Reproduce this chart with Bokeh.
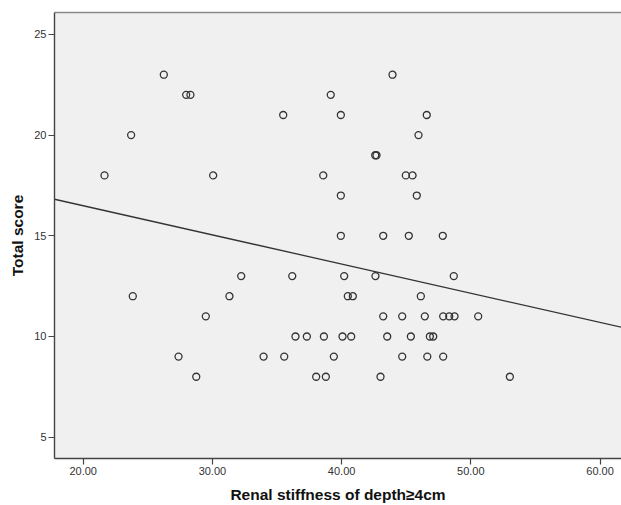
import numpy as np
from bokeh.plotting import figure
from bokeh.models import Range1d, FixedTicker, PrintfTickFormatter, LinearAxis
from bokeh.embed import file_html
from bokeh.resources import INLINE

# Renal stiffness (depth >= 4 cm) against total score, one entry per subject
stiffness = [
    21.65, 23.71, 26.24, 27.97, 28.30, 35.48, 30.06, 43.94, 39.16, 39.94,
    46.59, 45.95, 42.60, 42.70, 38.58, 44.97, 45.49, 39.94, 45.82, 39.94,
    43.22, 45.20, 47.83,
    23.84, 32.23, 36.18, 31.32, 29.49, 27.38, 28.75, 33.96, 35.56, 36.43,
    37.31, 38.03,
    40.20, 42.62, 48.68, 40.48, 40.87, 46.13, 43.22, 44.69, 46.44, 47.86,
    48.33, 48.74, 50.57, 38.63, 40.07, 40.74, 43.53, 45.36, 46.83, 47.09,
    39.40, 44.69, 46.63, 47.86, 38.78, 43.01, 53.02,
]
total_score = [
    18, 20, 23, 22, 22, 21, 18, 23, 22, 21,
    21, 20, 19, 19, 18, 18, 18, 17, 17, 15,
    15, 15, 15,
    12, 13, 13, 12, 11, 9, 8, 9, 9, 10,
    10, 8,
    13, 13, 13, 12, 12, 12, 11, 11, 11, 11,
    11, 11, 11, 10, 10, 10, 10, 10, 10, 10,
    9, 9, 9, 9, 8, 8, 8,
]
x_ticks = [20, 30, 40, 50, 60]
y_ticks = [5, 10, 15, 20, 25]

X_LO, X_HI = 17.78, 61.66
Y_LO, Y_HI = 3.94, 26.09

p = figure(
    width=621, height=505,
    x_range=Range1d(X_LO, X_HI), y_range=Range1d(Y_LO, Y_HI),
    output_backend="svg", toolbar_location=None,
    min_border_left=54, min_border_right=0, min_border_top=12, min_border_bottom=47,
    background_fill_color="#f0f0f0", border_fill_color="white",
)
p.outline_line_color = None
p.grid.visible = False

font = "Liberation Sans"
for ax in (p.xaxis[0], p.yaxis[0]):
    ax.axis_line_color = "#444444"
    ax.axis_line_width = 1.4
    ax.major_tick_line_color = "#444444"
    ax.major_tick_line_width = 1.2
    ax.major_tick_in = 0
    ax.major_tick_out = 6
    ax.minor_tick_line_color = None
    ax.major_label_text_font = font
    ax.major_label_text_font_size = "11px"
    ax.major_label_text_color = "#333333"
    ax.major_label_standoff = 2
    ax.axis_label_text_font = font
    ax.axis_label_text_font_style = "bold"
    ax.axis_label_text_font_size = "15.5px"
    ax.axis_label_text_color = "#111111"

p.xaxis.ticker = FixedTicker(ticks=x_ticks)
p.xaxis.formatter = PrintfTickFormatter(format="%.2f")
p.yaxis.ticker = FixedTicker(ticks=y_ticks)
p.xaxis.axis_label = "Renal stiffness of depth≥4cm"
p.yaxis.axis_label = "Total score"
p.xaxis.axis_label_standoff = 8
p.yaxis.axis_label_standoff = 5

# top edge of the data frame
top = LinearAxis(ticker=FixedTicker(ticks=[]), axis_line_color="#8a8a8a",
                 axis_line_width=1.4, major_tick_out=0, minor_tick_out=0,
                 major_label_text_font_size="0px")
p.add_layout(top, "above")

# least-squares fit line across the full x range
slope, intercept = np.polyfit(stiffness, total_score, 1)
fx = [X_LO, X_HI]
p.line(fx, [slope * v + intercept for v in fx], line_color="#333333", line_width=1.3)

p.scatter(stiffness, total_score, marker="circle", size=7,
          fill_color=None, line_color="#333333", line_width=1.3)

open("out.html", "w").write(file_html(p, INLINE))
